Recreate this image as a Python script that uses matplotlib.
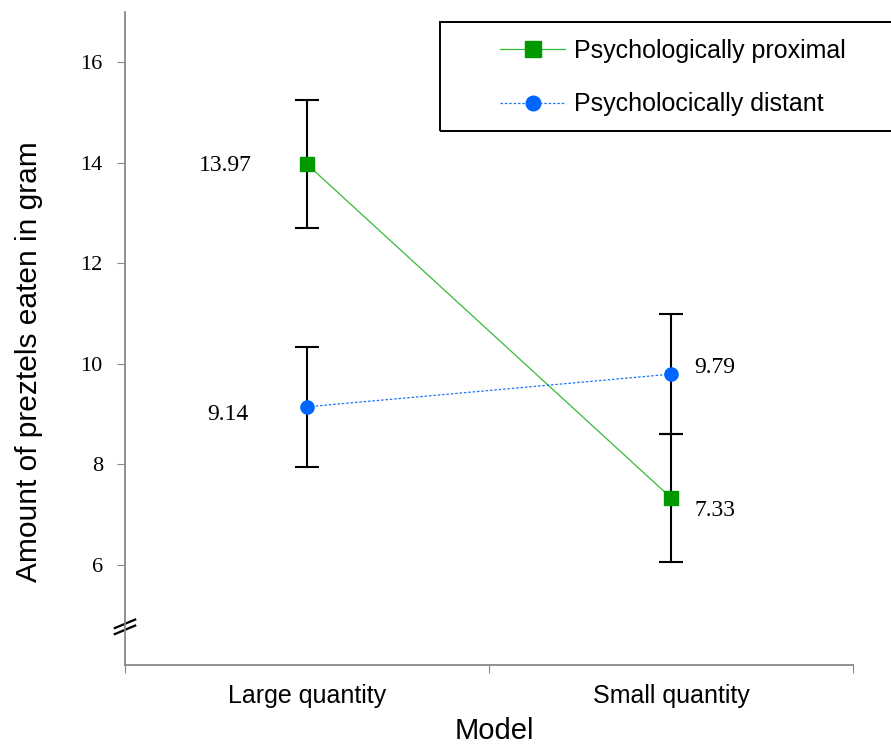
import numpy as np
import matplotlib.pyplot as plt
from matplotlib.lines import Line2D
from matplotlib.patches import Rectangle

# Data
categories = ['Large quantity', 'Small quantity']
proximal = [13.97, 7.33]
proximal_err = [1.28, 1.27]
distant = [9.14, 9.79]
distant_err = [1.2, 1.2]
series_names = ['Psychologically proximal', 'Psycholocically distant']

x = np.array([0.5, 1.5])

W, H = 891, 746
fig = plt.figure(figsize=(W / 100, H / 100), dpi=100)
ax = fig.add_axes([125 / W, 1 - 665 / H, 728 / W, 653 / H])

# error bars first so the markers sit on top
ax.errorbar(x, proximal, yerr=proximal_err, fmt='none', ecolor='black',
            elinewidth=1.5, capsize=8.5, capthick=1.5, zorder=2)
ax.errorbar(x, distant, yerr=distant_err, fmt='none', ecolor='black',
            elinewidth=1.5, capsize=8.5, capthick=1.5, zorder=2)

ax.plot(x, proximal, color='#33bb33', lw=0.9, zorder=3)
ax.plot(x, proximal, ls='none', marker='s', ms=10.5, color='#009900', zorder=4)
ax.plot(x, distant, color='#1a73ff', lw=0.9, ls=(0, (2, 1.5)), zorder=3)
ax.plot(x, distant, ls='none', marker='o', ms=9.5, color='#0066ff', zorder=4)

# value labels
serif = 'Liberation Serif'
lab_fs = 17
ax.annotate(f'{proximal[0]:.2f}', (x[0], proximal[0]), xytext=(-40, -1),
            textcoords='offset points', ha='right', va='center', fontsize=lab_fs, family=serif)
ax.annotate(f'{distant[0]:.2f}', (x[0], distant[0]), xytext=(-42, -5.5),
            textcoords='offset points', ha='right', va='center', fontsize=lab_fs, family=serif)
ax.annotate(f'{distant[1]:.2f}', (x[1], distant[1]), xytext=(17, 4.5),
            textcoords='offset points', ha='left', va='center', fontsize=lab_fs, family=serif)
ax.annotate(f'{proximal[1]:.2f}', (x[1], proximal[1]), xytext=(17, -9.5),
            textcoords='offset points', ha='left', va='center', fontsize=lab_fs, family=serif)

ax.set_xlim(0, 2)
ax.set_ylim(4, 17)
ax.set_xticks([0, 1, 2])
ax.set_xticklabels([])
ax.set_xticks(x, minor=True)
ax.set_xticklabels(categories, minor=True, fontsize=18, family='Liberation Sans')
ax.tick_params(axis='x', which='minor', length=0, pad=14)
ax.tick_params(axis='x', which='major', length=6, color='#888888', direction='out')
ax.set_yticks([6, 8, 10, 12, 14, 16])
ax.set_yticklabels(['6', '8', '10', '12', '14', '16'], family=serif, fontsize=16)
ax.tick_params(axis='y', length=6, color='#888888', direction='out', pad=10)

for s in ['top', 'right']:
    ax.spines[s].set_visible(False)
for s in ['left', 'bottom']:
    ax.spines[s].set_color('#888888')
    ax.spines[s].set_linewidth(1.3)

ax.set_xlabel('Model', fontsize=21, family='Liberation Sans')
ax.xaxis.set_label_coords(0.507, -0.08)
ax.set_ylabel('Amount of preztels eaten in gram', fontsize=21.5,
              family='Liberation Sans')
ax.yaxis.set_label_coords(-0.113, 0.464)

# axis break mark
for dy in (-0.06, 0.06):
    yc = 4.76 + dy
    ax.plot([-0.014, 0.014], [yc - 0.085, yc + 0.085], color='black',
            lw=1.6, transform=ax.get_yaxis_transform(), clip_on=False)

handles = [
    Line2D([], [], color='#33bb33', lw=0.9, marker='s', ms=11,
           mfc='#009900', mec='#009900'),
    Line2D([], [], color='#1a73ff', lw=0.9, ls=(0, (2, 1.5)), marker='o',
           ms=10.5, mfc='#0066ff', mec='#0066ff'),
]
fig.add_artist(Rectangle((440 / W, 1 - 131 / H), 470 / W, 109 / H,
                         transform=fig.transFigure, fill=False,
                         edgecolor='black', lw=1.4, clip_on=False))
leg = fig.legend(handles, series_names, loc='upper left',
                 bbox_to_anchor=(500 / W, 1 - 39 / H),
                 prop={'family': 'Liberation Sans', 'size': 18},
                 frameon=False, handlelength=2.6, labelspacing=1.17,
                 borderpad=0, handletextpad=0.35, borderaxespad=0)

fig.savefig('out.png', dpi=100)
